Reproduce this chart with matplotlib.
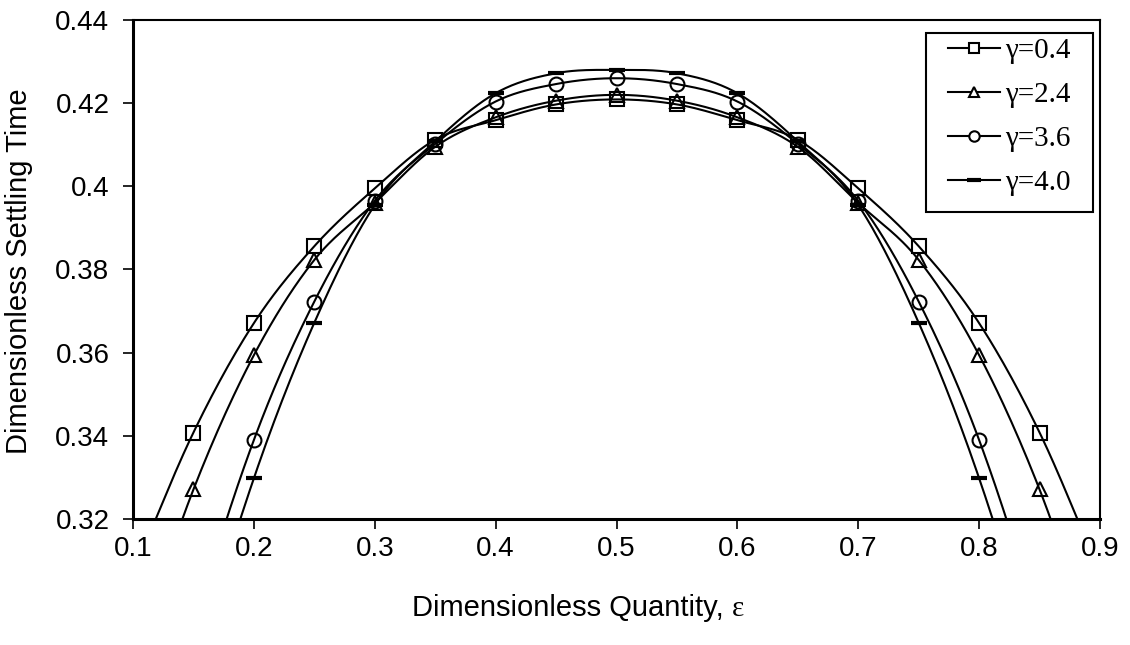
import numpy as np
import matplotlib
matplotlib.use("Agg")
import matplotlib.pyplot as plt
from matplotlib.patches import Rectangle
from matplotlib.ticker import FuncFormatter

# 數據 (由圖中讀取，左右對稱)
eps = [0.10, 0.15, 0.20, 0.25, 0.30, 0.35, 0.40, 0.45, 0.50,
       0.55, 0.60, 0.65, 0.70, 0.75, 0.80, 0.85, 0.90]
half_g04 = [0.307, 0.3408, 0.3671, 0.3856, 0.3995, 0.4112, 0.4159, 0.4197, 0.4209]
half_g24 = [0.285, 0.3271, 0.3594, 0.3823, 0.3960, 0.4095, 0.4166, 0.4206, 0.4220]
half_g36 = [0.240, 0.2940, 0.3390, 0.3723, 0.3965, 0.4102, 0.4204, 0.4246, 0.4260]
half_g40 = [0.224, 0.2820, 0.3298, 0.3672, 0.3955, 0.4108, 0.4224, 0.4272, 0.4280]

def mirror(half):
    return half + half[-2::-1]

t_g04 = mirror(half_g04)
t_g24 = mirror(half_g24)
t_g36 = mirror(half_g36)
t_g40 = mirror(half_g40)

labels = ["γ=0.4", "γ=2.4", "γ=3.6", "γ=4.0"]
series = [t_g04, t_g24, t_g36, t_g40]
markers = ["s", "^", "o", "_"]


def smooth(x, y, n=30):
    # Catmull-Rom 平滑曲線 (類似 Excel 平滑線)
    x = np.asarray(x, float)
    y = np.asarray(y, float)
    px = np.concatenate([[2 * x[0] - x[1]], x, [2 * x[-1] - x[-2]]])
    py = np.concatenate([[2 * y[0] - y[1]], y, [2 * y[-1] - y[-2]]])
    xs, ys = [], []
    t = np.linspace(0, 1, n, endpoint=False)
    for i in range(1, len(px) - 2):
        for p, out in ((px, xs), (py, ys)):
            p0, p1, p2, p3 = p[i - 1], p[i], p[i + 1], p[i + 2]
            out.extend(0.5 * ((2 * p1) + (-p0 + p2) * t
                              + (2 * p0 - 5 * p1 + 4 * p2 - p3) * t ** 2
                              + (-p0 + 3 * p1 - 3 * p2 + p3) * t ** 3))
    xs.append(x[-1])
    ys.append(y[-1])
    return np.array(xs), np.array(ys)


plt.rcParams['font.family'] = ['Liberation Sans', 'DejaVu Sans']

W, H = 1130, 645
fig = plt.figure(figsize=(W / 100, H / 100), dpi=100)
ax = fig.add_axes([133 / W, 1 - 519 / H, 967 / W, 499 / H])

for y, lab, m in zip(series, labels, markers):
    sx, sy = smooth(eps, y)
    ax.plot(sx, sy, color="black", lw=1.5)
    if m == "_":
        ax.plot(eps, y, ls="none", marker=m, ms=12, mew=3, color="black")
    else:
        ax.plot(eps, y, ls="none", marker=m, ms=10,
                mfc="none", mec="black", mew=1.5)

# 圖例用的代理
handles = []
for lab, m in zip(labels, markers):
    if m == "_":
        h, = ax.plot([], [], color="black", lw=1.5, marker=m, ms=10, mew=3)
    else:
        h, = ax.plot([], [], color="black", lw=1.5, marker=m, ms=7.5,
                     mfc="white", mec="black", mew=1.5)
    handles.append(h)

leg = fig.legend(handles, labels, loc="upper left",
                 bbox_to_anchor=(948 / W, 1 - 38 / H), bbox_transform=fig.transFigure,
                 prop={'family': 'Liberation Serif', 'size': 21},
                 frameon=False, handlelength=1.78, handletextpad=0.17,
                 labelspacing=0.6, borderpad=0, borderaxespad=0)
# 圖例外框 (下方留白較多)
fig.patches.append(Rectangle((926 / W, 1 - 212 / H), 167 / W, 179 / H,
                             transform=fig.transFigure, fill=False,
                             edgecolor="black", linewidth=1.5, zorder=5))

ax.set_xlim(0.1, 0.9)
ax.set_ylim(0.32, 0.44)
ax.set_xticks(np.arange(0.1, 0.91, 0.1))
ax.set_yticks(np.arange(0.32, 0.441, 0.02))
ax.xaxis.set_major_formatter(FuncFormatter(lambda v, p: "%g" % round(v, 2)))
ax.yaxis.set_major_formatter(FuncFormatter(lambda v, p: "%g" % round(v, 2)))
ax.tick_params(direction="out", length=7, width=1.2, labelsize=20)
ax.tick_params(axis="x", pad=5)
ax.tick_params(axis="y", pad=10)

for s in ["left", "bottom"]:
    ax.spines[s].set_linewidth(2.2)
for s in ["top", "right"]:
    ax.spines[s].set_linewidth(1.5)

fig.text(19 / W, 0.58, "Dimensionless Settling Time", fontsize=21,
         rotation=90, ha="center", va="center")
fig.text(0.6473, 0.045, "Dimensionless Quantity, ", fontsize=21, ha="right", va="baseline")
fig.text(0.6473, 0.045, "ε", fontsize=21, family="Liberation Serif", ha="left", va="baseline")

fig.savefig("out.png", dpi=100)
